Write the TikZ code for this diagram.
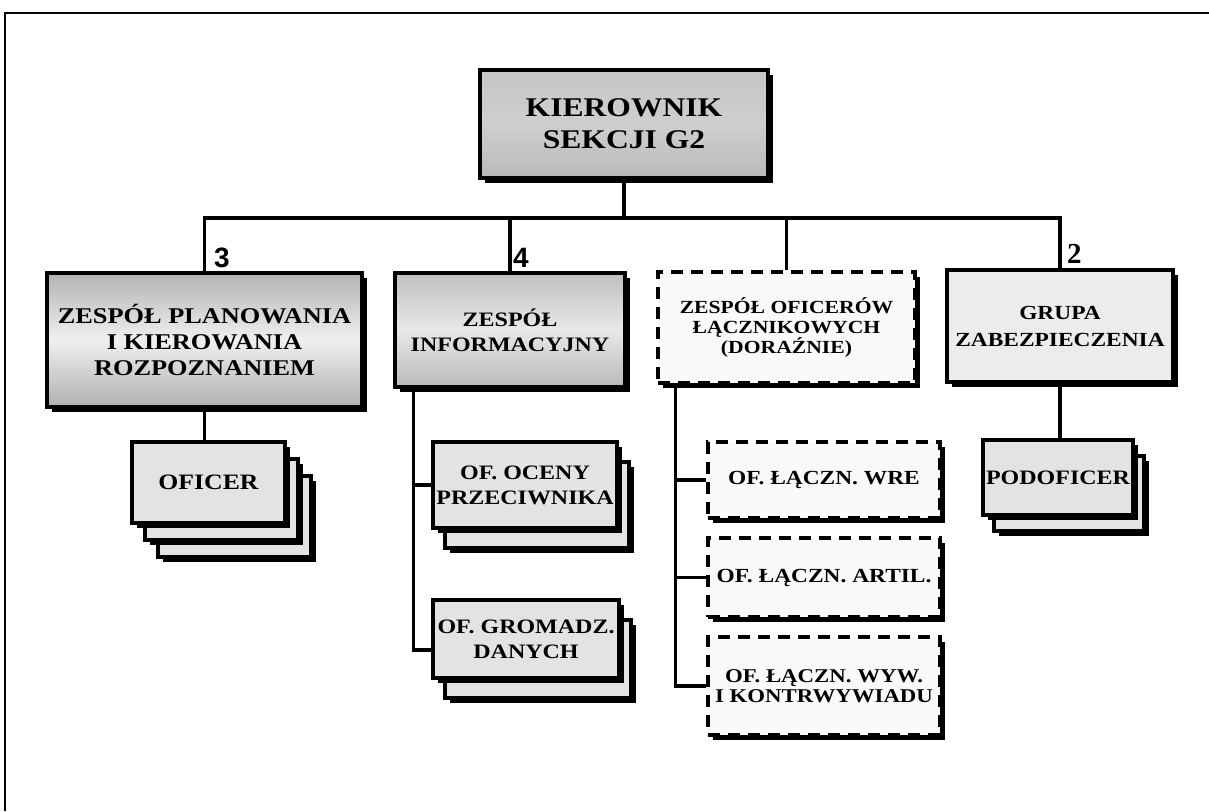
\documentclass[tikz,border=0pt]{standalone}
\usepackage{fontspec}
\setmainfont[FakeStretch=1.17]{Liberation Serif}
\newfontfamily\numfont{Liberation Sans}
\newfontfamily\twofont{Liberation Serif}
\usetikzlibrary{shadows}
\pgfdeclarelayer{bg}
\pgfsetlayers{bg,main}
\begin{document}
\begin{tikzpicture}[x=1pt,y=-1pt,line join=miter,
  box/.style={draw=black, line width=3.8pt, align=center, font=\bfseries, inner sep=0pt,
    drop shadow={shadow xshift=5pt, shadow yshift=-5pt, fill=black, opacity=1}},
  dbox/.style={box, dash pattern=on 12pt off 8pt, fill=gray!5},
  lightbox/.style={box, fill=gray!22},
  conn/.style={line width=3.2pt},
  num/.style={inner sep=0pt, anchor=south west},
  fs/.style 2 args={font=\bfseries\fontsize{#1}{#2}\selectfont}
]
\useasboundingbox (0,0) rectangle (1209,811);
\begin{pgfonlayer}{bg}
\fill[white] (0,0) rectangle (1209,811);
\end{pgfonlayer}
% frame
\draw[line width=2pt] (5,811) -- (5,13) -- (1209,13);

\coordinate (bar) at (0,218);

% ---------- boxes ----------
\node[box, minimum width=288pt, minimum height=108pt, top color=gray!45, bottom color=gray!55, middle color=gray!38,
  fs={27}{32}] (K) at (624,124) {KIEROWNIK\\SEKCJI G2};

\node[box, minimum width=315pt, minimum height=134pt, top color=gray!60, bottom color=gray!62, middle color=gray!12,
  fs={22.5}{26}] (Z1) at (204.5,340) {ZESPÓŁ PLANOWANIA\\I KIEROWANIA\\ROZPOZNANIEM};

\node[box, minimum width=230pt, minimum height=114pt, top color=gray!50, bottom color=gray!55, middle color=gray!18,
  fs={20.5}{25}] (Z2) at (510,330) {ZESPÓŁ\\INFORMACYJNY};

\node[dbox, minimum width=257pt, minimum height=111pt, fs={18.5}{20}] (Z3) at (786.5,327.5) {ZESPÓŁ OFICERÓW\\ŁĄCZNIKOWYCH\\(DORAŹNIE)};

\node[box, minimum width=226pt, minimum height=112pt, fill=gray!15, fs={20}{27}] (Z4) at (1060,326) {GRUPA\\ZABEZPIECZENIA};

% OFICER stack
\node[lightbox, minimum width=153pt, minimum height=81pt] (O3) at (234.5,516.5) {};
\node[lightbox, minimum width=153pt, minimum height=81pt] (O2) at (221.5,499.5) {};
\node[lightbox, minimum width=153pt, minimum height=81pt, fs={22}{22}] (O1) at (208.5,482.5) {OFICER};

% OF. OCENY stack
\node[lightbox, minimum width=184pt, minimum height=86pt] (OC2) at (537,505) {};
\node[lightbox, minimum width=184pt, minimum height=86pt, fs={20.5}{25}] (OC1) at (525,485) {OF. OCENY\\PRZECIWNIKA};

% OF. GROMADZ stack
\node[lightbox, minimum width=186pt, minimum height=78pt] (G2) at (538,659) {};
\node[lightbox, minimum width=186pt, minimum height=78pt, fs={20.5}{25}] (G1) at (526,639) {OF. GROMADZ.\\DANYCH};

% dashed officers
\node[dbox, minimum width=232pt, minimum height=76pt, fs={20}{20}] (W1) at (824,480) {OF. ŁĄCZN. WRE};
\node[dbox, minimum width=232pt, minimum height=79pt, fs={20}{20}] (A1) at (824,577.5) {OF. ŁĄCZN. ARTIL.};
\node[dbox, minimum width=232pt, minimum height=98pt, fs={19.5}{20}] (Y1) at (824,686) {OF. ŁĄCZN. WYW.\\I KONTRWYWIADU};

% PODOFICER stack
\node[lightbox, minimum width=150pt, minimum height=75pt] (P2) at (1069,493.5) {};
\node[lightbox, minimum width=150pt, minimum height=75pt, fs={20.5}{20.5}] (P1) at (1058,477.5) {PODOFICER};

% ---------- connectors (behind boxes) ----------
\begin{pgfonlayer}{bg}
\draw[conn] (K.south) -- (K.south |- bar);
\draw[conn] (Z1.north) -- (Z1.north |- bar) -- (Z4.north |- bar) -- (Z4.north);
\draw[conn] (Z2.north) -- (Z2.north |- bar);
\draw[conn] (Z3.north) -- (Z3.north |- bar);
\draw[conn] (Z1.south) -- (Z1.south |- O1.north);
\draw[conn] ([xshift=20pt]Z2.south west) |- ([yshift=-11pt]G1.west);
\draw[conn] ([xshift=20pt]Z2.south west) |- (OC1.west);
\draw[conn] ([xshift=19pt]Z3.south west) |- (Y1.west);
\draw[conn] ([xshift=19pt]Z3.south west) |- (W1.west);
\draw[conn] ([xshift=19pt]Z3.south west) |- (A1.west);
\draw[conn] (Z4.south) -- (Z4.south |- P1.north);
\end{pgfonlayer}

% numbers
\node[num, font=\numfont\bfseries\fontsize{28}{28}\selectfont] (n3) at (214,268) {3};
\node[num, font=\numfont\bfseries\fontsize{28}{28}\selectfont] (n4) at (513,268) {4};
\node[num, font=\twofont\bfseries\fontsize{29}{29}\selectfont] (n2) at (1067,264) {2};
\end{tikzpicture}
\end{document}
